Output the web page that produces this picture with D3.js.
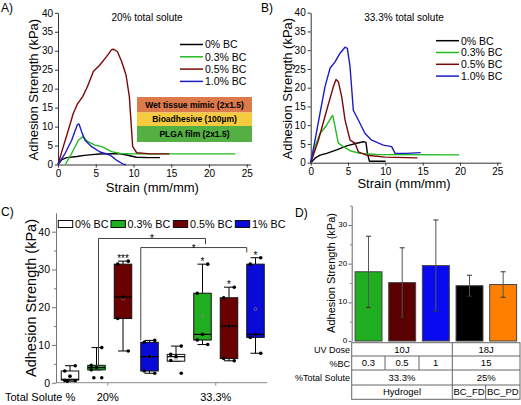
<!DOCTYPE html>
<html><head><meta charset="utf-8">
<script src="https://cdn.jsdelivr.net/npm/d3@7"></script>
<style>
body{margin:0;background:#fff}
svg{display:block;font-family:"Liberation Sans",Arial,sans-serif}
</style>
</head><body>
<svg id="chart" width="521" height="405"></svg>
<script>
// ---------------- DATA ----------------
const seriesLabels = ["0% BC", "0.3% BC", "0.5% BC", "1.0% BC"];
const lineColors = ["#000000", "#22bb22", "#7a0808", "#1c1cc4"];
const strainTicks = [0, 5, 10, 15, 20, 25];
const strengthTicks = [0, 5, 10, 15, 20, 25, 30, 35, 40];

// Panel A : 20% total solute  [strain, kPa]
const A_bc0 = [[0,0],[0.5,1.3],[1.15,1.8],[2.5,2.1],[3.5,2.4],[4.5,2.6],[5.5,2.75],[6.45,2.8],[8,2.9],[9.1,2.5],[10.4,1.9],[12,1.8],[13.5,1.8]];
const A_bc03 = [[0.97,0],[1.8,2.9],[2.7,6.4],[3.27,7.3],[3.9,6.1],[4.9,5.1],[5.8,4.7],[7.1,3.4],[8.2,2.9],[10,2.8],[16,2.8],[23.5,2.8]];
const A_bc05 = [[0,0],[0.7,4.7],[1.37,9.1],[2.03,13.5],[2.56,15.9],[3.27,17.9],[3.89,20.5],[4.68,24.5],[5.57,26.3],[6.45,28.5],[7.1,30.3],[7.33,30.4],[7.86,29.8],[8.44,27.1],[9.01,23.6],[9.45,17.9],[9.89,4.7],[10.42,3.1],[12.2,2.8],[14.75,2.8]];
const A_bc10 = [[0,0],[0.93,2.9],[1.81,6.4],[2.56,10.5],[2.78,10.7],[3.14,8.6],[3.58,6.4],[4.46,4.7],[5.57,3.3],[6.89,2.5],[7.77,1.1],[8.75,0],[9.0,0]];

// Panel B : 33.3% total solute
const B_bc0 = [[0,0],[0.58,1.2],[1.25,2],[2.14,2.5],[3.48,3.4],[4.82,4.5],[6.16,5.2],[7.05,5.6],[7.4,5.4],[7.6,2.5],[7.86,0.4],[10.04,0.4]];
const B_bc03 = [[0,0],[0.58,4.3],[1.25,7.8],[2.14,10],[2.81,12.3],[2.95,12.6],[3.26,9.6],[3.7,5.2],[4.38,4.3],[5.27,3.2],[6.6,2.5],[8.84,2.2],[19.9,2.1]];
const B_bc05 = [[0,0],[1.03,6],[2.14,14],[3.04,20.3],[3.39,22.2],[3.7,21.6],[4.15,17.6],[4.6,11.4],[5.27,6],[5.94,5.2],[6.38,2.9],[7.5,2],[9.96,1.5],[14.3,1.3]];
const B_bc10 = [[0,0],[0.58,6],[1.25,13.2],[1.92,20.3],[2.59,25.2],[3.26,26.9],[3.93,29.2],[4.6,30.8],[4.91,30.5],[5.27,25.6],[5.71,14],[6.38,11.4],[7.28,7.8],[8.17,6],[9.73,4.7],[10.85,4.3],[11.3,2.5],[12.86,2.5],[14.73,2.7]];

const layerLabels = ["Wet tissue mimic (2x1.5)", "Bioadhesive (100\u00b5m)", "PLGA film (2x1.5)"];
const layerColors = ["#dc7a4c", "#f6ca3e", "#55b043"];

// Panel C : box plots
const boxGroups = ["20%", "33.3%"];
const boxLegend = ["0% BC", "0.3% BC", "0.5% BC", "1% BC"];
const boxColors = ["#ffffff", "#1fae1f", "#6a0000", "#0a0ad8"];
const boxQ1     = [0.7, 3.4, 17.0, 3.1, 5.7, 11.3, 6.4, 12.0];
const boxMedian = [0.9, 4.0, 22.7, 6.9, 6.9, 12.8, 15.0, 12.8];
const boxQ3     = [3.1, 4.6, 31.4, 10.7, 7.5, 23.7, 22.5, 31.4];
const whiskLow  = [0.4, 3.4, 8.4, 2.5, 5.7, 10.1, 5.8, 7.8];
const whiskHigh = [4.5, 9.3, 32.2, 11.2, 9.7, 31.4, 25.3, 33.1];
const boxMean   = [1.8, 4.0, 22.3, 6.9, 6.4, 17.8, 15.0, 19.5];
const boxPoints = [
  [4.5, 3.1, 1.7, 0.6, 0.5, 0.4],
  [9.3, 4.6, 4.0, 3.4, 1.3, 1.3],
  [32.2, 31.4, 22.7, 17.0, 8.4],
  [11.2, 10.7, 6.9, 3.1, 2.5],
  [9.7, 7.5, 6.9, 5.9, 2.5],
  [31.4, 23.7, 12.8, 11.3, 10.1],
  [25.3, 22.5, 15.0, 6.4, 5.8],
  [33.1, 31.4, 12.8, 12.0, 7.8]
];
const boxStars = ["", "", "***", "", "", "*", "*", "*"];
const bracketFrom = [1, 3];
const bracketTo = [5, 7];
const bracketTop = [38.2, 35.8];
const bracketLeftEnd = [4.6, 11.2];
const bracketRightEnd = [36.7, 34.5];
const cTicks = [0, 10, 20, 30, 40];

// Panel D : bars with table
const barNames = ["0.3", "0.5", "1", "BC_FD", "BC_PD"];
const barMeans = [17.9, 15.1, 19.5, 14.3, 14.6];
const barErr   = [9.2, 9.0, 11.8, 2.7, 3.3];
const barColors = ["#1fae1f", "#5a0000", "#0a0af0", "#000000", "#ff8000"];
const dTicks = [0, 10, 20, 30];
const tableRowLabels = ["UV Dose", "%BC", "%Total Solute", ""];
const tableCells = [
  [["10J", 0, 3], ["18J", 3, 5]],
  [["0.3", 0, 1], ["0.5", 1, 2], ["1", 2, 3], ["15", 3, 5]],
  [["33.3%", 0, 3], ["25%", 3, 5]],
  [["Hydrogel", 0, 3], ["BC_FD", 3, 4], ["BC_PD", 4, 5]]
];

// ---------------- DRAW ----------------
const svg = d3.select("#chart");
const FONT = '"Liberation Sans",Arial,sans-serif';

function styleAxis(g, color, fs) {
  g.select(".domain").attr("stroke", color).attr("stroke-width", 1);
  g.selectAll(".tick line").attr("stroke", color);
  g.selectAll(".tick text").attr("fill", "#000").attr("font-size", fs).attr("font-family", FONT);
}

function linePanel(opts) {
  const x = d3.scaleLinear().domain([0, 25.5]).range([opts.x0, opts.x0 + 25.5 * opts.xs]);
  const y = d3.scaleLinear().domain([0, 40]).range([opts.y0, opts.y40]);
  const gx = svg.append("g").attr("transform", `translate(0,${opts.y0})`)
    .call(d3.axisBottom(x).tickValues(strainTicks).tickSize(3).tickSizeOuter(0).tickPadding(2));
  styleAxis(gx, "#333", 10);
  const gy = svg.append("g").attr("transform", `translate(${opts.x0},0)`)
    .call(d3.axisLeft(y).tickValues(strengthTicks).tickSize(3).tickSizeOuter(0).tickPadding(2));
  styleAxis(gy, "#333", 10);
  const line = d3.line().x(d => x(d[0])).y(d => y(d[1]));
  opts.series.forEach((s, i) => {
    svg.append("path").datum(s).attr("d", line).attr("fill", "none")
      .attr("stroke", lineColors[i]).attr("stroke-width", 1.4).attr("stroke-linejoin", "round");
  });
  // legend
  seriesLabels.forEach((lab, i) => {
    const ly = opts.legY + i * opts.legDy;
    svg.append("line").attr("x1", opts.legX).attr("x2", opts.legX + 23).attr("y1", ly).attr("y2", ly)
      .attr("stroke", lineColors[i]).attr("stroke-width", 1.5);
    svg.append("text").attr("x", opts.legX + 25).attr("y", ly + 3.8).attr("font-size", 10.5).text(lab);
  });
  svg.append("text").attr("x", opts.titleX).attr("y", 20.5).attr("text-anchor", "middle")
    .attr("font-size", 10).text(opts.title);
  svg.append("text").attr("x", opts.x0 + 12.5 * opts.xs).attr("y", opts.xlabY).attr("text-anchor", "middle")
    .attr("font-size", 13).text("Strain (mm/mm)");
  svg.append("text").attr("transform", `translate(${opts.ylabX},${(opts.y0 + opts.y40) / 2 + 1}) rotate(-90)`)
    .attr("text-anchor", "middle").attr("font-size", 13).text("Adhesion Strength (kPa)");
  svg.append("text").attr("x", opts.tagX).attr("y", 11.5).attr("font-size", 12).text(opts.tag);
  return {x, y};
}

linePanel({x0: 58, xs: 7.55, y0: 164.5, y40: 12.8, series: [A_bc0, A_bc03, A_bc05, A_bc10],
  legX: 180, legY: 44.5, legDy: 12.3, title: "20% total solute", titleX: 147, xlabY: 192,
  ylabX: 37.5, tag: "A)", tagX: 1});

// layer stack inset (panel A)
const layerTop = [97, 112.5, 126];
const layerBot = [112.5, 126, 142];
layerLabels.forEach((lab, i) => {
  svg.append("rect").attr("x", 137).attr("y", layerTop[i]).attr("width", 115)
    .attr("height", layerBot[i] - layerTop[i]).attr("fill", layerColors[i]);
  svg.append("text").attr("x", 194.5).attr("y", (layerTop[i] + layerBot[i]) / 2 + 3)
    .attr("text-anchor", "middle").attr("font-size", 8.5).attr("font-weight", "bold").text(lab);
});

linePanel({x0: 310.7, xs: 7.464, y0: 162.7, y40: 12.7, series: [B_bc0, B_bc03, B_bc05, B_bc10],
  legX: 436, legY: 40.7, legDy: 11.8, title: "33.3% total solute", titleX: 404, xlabY: 188,
  ylabX: 292, tag: "B)", tagX: 261});

// ---- Panel C ----
(function () {
  const x = d3.scaleBand().domain(d3.range(8)).range([56.75, 268.75]).paddingInner(0.34).paddingOuter(0.17);
  const y = d3.scaleLinear().domain([0, 45]).range([382.7, 382.7 - 45 * 3.775]);
  const bw = x.bandwidth();
  const gy = svg.append("g").attr("transform", "translate(56,0)")
    .call(d3.axisLeft(y).tickValues(cTicks).tickSize(4).tickSizeOuter(0).tickPadding(2));
  styleAxis(gy, "#777", 10.5);
  const gm = svg.append("g").attr("transform", "translate(56,0)")
    .call(d3.axisLeft(y).tickValues([5, 15, 25, 35]).tickSize(2).tickFormat(""));
  gm.select(".domain").remove();
  gm.selectAll(".tick line").attr("stroke", "#777");
  svg.append("line").attr("x1", 56).attr("x2", 267).attr("y1", 382.7).attr("y2", 382.7).attr("stroke", "#888");
  const groupX = [(x(1) + x(2)) / 2 + bw / 2 - 2, (x(5) + x(6)) / 2 + bw / 2];
  boxGroups.forEach((g, i) => {
    svg.append("line").attr("x1", groupX[i]).attr("x2", groupX[i]).attr("y1", 382.7).attr("y2", 385.5).attr("stroke", "#888");
    svg.append("text").attr("x", groupX[i]).attr("y", 401).attr("text-anchor", "middle").attr("font-size", 11).text(g);
  });
  svg.append("text").attr("x", 5).attr("y", 401).attr("font-size", 11).text("Total Solute %");

  const offs = [0.3, -0.3, 0, -0.3, 0.3, -0.15];
  d3.range(8).forEach(i => {
    const cx = x(i) + bw / 2;
    const col = boxColors[i % 4];
    svg.append("line").attr("x1", cx).attr("x2", cx).attr("y1", y(whiskHigh[i])).attr("y2", y(boxQ3[i])).attr("stroke", "#000");
    svg.append("line").attr("x1", cx).attr("x2", cx).attr("y1", y(boxQ1[i])).attr("y2", y(whiskLow[i])).attr("stroke", "#000");
    [whiskHigh[i], whiskLow[i]].forEach(v => {
      svg.append("line").attr("x1", cx - 5).attr("x2", cx + 5).attr("y1", y(v)).attr("y2", y(v)).attr("stroke", "#000");
    });
    svg.append("rect").attr("x", x(i)).attr("y", y(boxQ3[i])).attr("width", bw)
      .attr("height", Math.max(1, y(boxQ1[i]) - y(boxQ3[i]))).attr("fill", col).attr("stroke", "#111").attr("stroke-width", 1);
    svg.append("line").attr("x1", x(i)).attr("x2", x(i) + bw).attr("y1", y(boxMedian[i])).attr("y2", y(boxMedian[i])).attr("stroke", "#000").attr("stroke-width", 1.2);
    svg.append("circle").attr("cx", cx).attr("cy", y(boxMean[i])).attr("r", 1.5).attr("fill", "none").attr("stroke", "#888").attr("stroke-width", 0.6);
    boxPoints[i].forEach((v, j) => {
      svg.append("circle").attr("cx", cx + offs[j % offs.length] * bw).attr("cy", y(v)).attr("r", 1.8).attr("fill", "#000");
    });
    if (boxStars[i]) {
      svg.append("text").attr("x", cx).attr("y", y(whiskHigh[i]) - 4.5 + 5.7).attr("text-anchor", "middle")
        .attr("font-size", 10).attr("fill", "#000").text(boxStars[i]);
    }
  });
  bracketFrom.forEach((f, k) => {
    const t = bracketTo[k];
    const xl = k === 0 ? x(f) + bw / 2 + 2 : x(f);
    const xr = k === 0 ? x(t) + bw / 2 + 3 : x(t);
    const yt = y(bracketTop[k]);
    svg.append("path").attr("d", `M${xl},${y(bracketLeftEnd[k])}V${yt}H${xr}V${y(bracketRightEnd[k])}`)
      .attr("fill", "none").attr("stroke", "#444").attr("stroke-width", 1);
    svg.append("text").attr("x", (xl + xr) / 2).attr("y", yt + 4).attr("text-anchor", "middle")
      .attr("font-size", 10).attr("fill", "#000").text("*");
  });
  const legBoxX = [58.3, 111, 173.3, 235.3];
  boxLegend.forEach((lab, i) => {
    svg.append("rect").attr("x", legBoxX[i]).attr("y", 220.5).attr("width", 14.4).attr("height", 7)
      .attr("fill", boxColors[i]).attr("stroke", "#111");
    svg.append("text").attr("x", legBoxX[i] + 16.6).attr("y", 227.5).attr("font-size", 10.8).text(lab);
  });
  svg.append("text").attr("transform", "translate(36,298) rotate(-90)").attr("text-anchor", "middle")
    .attr("font-size", 14.5).text("Adhesion Strength (kPa)");
  svg.append("text").attr("x", 1).attr("y", 216).attr("font-size", 12).text("C)");
})();

// ---- Panel D ----
(function () {
  const left = 351.7, right = 520;
  const x = d3.scaleBand().domain(d3.range(5)).range([left, right]).paddingInner(0.2).paddingOuter(0.1);
  const y = d3.scaleLinear().domain([0, 35]).range([341, 341 - 35 * 3.867]);
  const bw = x.bandwidth();
  const gy = svg.append("g").attr("transform", `translate(${left},0)`)
    .call(d3.axisLeft(y).tickValues(dTicks).tickSize(3).tickSizeOuter(0).tickPadding(1.5));
  styleAxis(gy, "#666", 8);
  gy.selectAll(".tick text").attr("dy", "0.2em");
  const gm = svg.append("g").attr("transform", `translate(${left},0)`)
    .call(d3.axisLeft(y).tickValues([5, 15, 25, 35]).tickSize(1.5).tickFormat(""));
  gm.select(".domain").remove();
  gm.selectAll(".tick line").attr("stroke", "#666");
  barMeans.forEach((m, i) => {
    svg.append("rect").attr("x", x(i)).attr("y", y(m)).attr("width", bw).attr("height", y(0) - y(m))
      .attr("fill", barColors[i]).attr("stroke", "#444").attr("stroke-width", 1);
    const cx = x(i) + bw / 2;
    const hi = y(m + barErr[i]), lo = y(m - barErr[i]);
    svg.append("line").attr("x1", cx).attr("x2", cx).attr("y1", hi).attr("y2", lo).attr("stroke", "#555").attr("stroke-width", 1);
    [hi, lo].forEach(v => svg.append("line").attr("x1", cx - 2.5).attr("x2", cx + 2.5).attr("y1", v).attr("y2", v).attr("stroke", "#333"));
  });
  const rowY = [342.7, 356, 370, 385, 399.3];
  const colX = [left, 385, 419, 452.3, 485.7, right];
  svg.append("rect").attr("x", left).attr("y", rowY[0]).attr("width", right - left).attr("height", rowY[4] - rowY[0])
    .attr("fill", "none").attr("stroke", "#666");
  rowY.slice(1, 4).forEach(ry => svg.append("line").attr("x1", left).attr("x2", right).attr("y1", ry).attr("y2", ry).attr("stroke", "#666"));
  tableCells.forEach((row, r) => {
    row.forEach((c, k) => {
      const x0 = colX[c[1]], x1 = colX[c[2]];
      if (k > 0) svg.append("line").attr("x1", x0).attr("x2", x0).attr("y1", rowY[r]).attr("y2", rowY[r + 1]).attr("stroke", "#666");
      svg.append("text").attr("x", (x0 + x1) / 2).attr("y", (rowY[r] + rowY[r + 1]) / 2 + 3.3)
        .attr("text-anchor", "middle").attr("font-size", 9.5).text(c[0]);
    });
    if (tableRowLabels[r]) {
      svg.append("text").attr("x", 350).attr("y", (rowY[r] + rowY[r + 1]) / 2 + 3.6)
        .attr("text-anchor", "end").attr("font-size", 9).text(tableRowLabels[r]);
    }
  });
  svg.append("text").attr("transform", "translate(335,273) rotate(-90)").attr("text-anchor", "middle")
    .attr("font-size", 11).text("Adhesion Strength (kPa)");
  svg.append("text").attr("x", 295).attr("y", 217).attr("font-size", 12).text("D)");
})();
</script>
</body></html>
